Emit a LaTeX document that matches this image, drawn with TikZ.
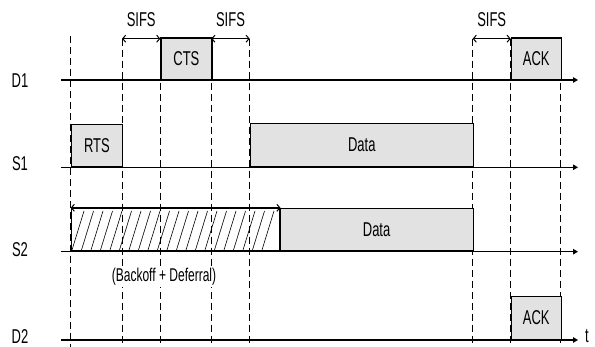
\documentclass[tikz,border=0pt]{standalone}
\usepackage{fontspec}
\setmainfont{Liberation Sans}[FakeStretch=0.65]
\usetikzlibrary{arrows.meta}
\definecolor{boxgray}{RGB}{226,226,226}
\tikzset{
  axis/.style={line width=1.4pt, -{Triangle[length=5pt,width=5.5pt]}},
  pbox/.style={draw, line width=1.2pt, fill=boxgray, inner sep=0pt, anchor=south west, font=\fontsize{20}{20}\selectfont},
  guide/.style={line width=0.9pt, dash pattern=on 7pt off 4pt},
  sifs/.style={line width=1pt, {Straight Barb[length=3pt,width=7pt]}-{Straight Barb[length=3pt,width=7pt]}},
  lbl/.style={font=\fontsize{20}{20}\selectfont, inner sep=0pt},
  hatch/.style={line width=0.6pt}
}
\begin{document}
\begin{tikzpicture}[x=1pt,y=-1pt]
\useasboundingbox (0,0) rectangle (595,347);
% guide coordinates
\coordinate (g0t) at (70.7,36); \coordinate (g0b) at (70.7,347);
\coordinate (g1t) at (122,38.7); \coordinate (g1b) at (122,347);
\coordinate (g2t) at (160.3,38.7); \coordinate (g2b) at (160.3,347);
\coordinate (g3t) at (211.3,38.7); \coordinate (g3b) at (211.3,347);
\coordinate (g4t) at (249.7,38.7); \coordinate (g4b) at (249.7,347);
\coordinate (g5t) at (472.7,38.7); \coordinate (g5b) at (472.7,347);
\coordinate (g6t) at (510.7,38.7); \coordinate (g6b) at (510.7,347);
\coordinate (g7t) at (560.7,38.7); \coordinate (g7b) at (560.7,347);
\foreach \i in {0,...,7} { \draw[guide] (g\i t) -- (g\i b); }
% hatched backoff region
\begin{scope}
  \clip (70.7,209) rectangle (279.3,251.7);
  \foreach \k in {0,...,20} {
    \draw[hatch] ({72+9.5*\k},250) -- ({84+9.5*\k},211);
  }
\end{scope}
\node[draw, line width=1.2pt, anchor=south west, minimum width=208.6pt, minimum height=42.7pt, inner sep=0pt] (back) at (70.7,251.7) {};
% boxes
\node[pbox, minimum width=51.3pt, minimum height=42.3pt] (rts) at (70.7,167.3) {RTS};
\node[pbox, minimum width=51pt, minimum height=41.3pt] (cts) at (160.3,80) {CTS};
\node[pbox, minimum width=223pt, minimum height=43.3pt] (data1) at (249.7,167.3) {Data};
\node[pbox, minimum width=193.4pt, minimum height=42.7pt] (data2) at (279.3,251.7) {Data};
\node[pbox, minimum width=50pt, minimum height=41.3pt] (ack1) at (510.7,80) {ACK};
\node[pbox, minimum width=50pt, minimum height=42.7pt] (ack2) at (510.7,340) {ACK};
% axes
\coordinate (d1s) at (61,80); \coordinate (d1e) at (578,80);
\coordinate (s1s) at (61,167.3); \coordinate (s1e) at (578,167.3);
\coordinate (s2s) at (61,251.7); \coordinate (s2e) at (578,251.7);
\coordinate (d2s) at (61,340); \coordinate (d2e) at (578,340);
\draw[axis] (d1s) -- (d1e);
\draw[axis] (s1s) -- (s1e);
\draw[axis] (s2s) -- (s2e);
\draw[axis] (d2s) -- (d2e);
% labels
\node[lbl] (ld1) at (20,81) {D1};
\node[lbl] (ls1) at (20,164) {S1};
\node[lbl] (ls2) at (20,250) {S2};
\node[lbl] (ld2) at (20,336.5) {D2};
\node[lbl, anchor=west] (lt) at (585,336.5) {t};
% SIFS arrows
\draw[sifs] (g1t) -- (g2t);
\draw[sifs] (g3t) -- (g4t);
\draw[sifs] (g5t) -- (g6t);
\node[lbl] (sf1) at (141.2,20) {SIFS};
\node[lbl] (sf2) at (230.5,20) {SIFS};
\node[lbl] (sf3) at (491.7,20) {SIFS};
% backoff arrow
\draw[sifs] (back.north west) -- (back.north east);
\node[fill=white, inner sep=1pt, font=\fontsize{18.5}{18.5}\selectfont] (bd) at (164,277) {(Backoff + Deferral)};
\end{tikzpicture}
\end{document}
